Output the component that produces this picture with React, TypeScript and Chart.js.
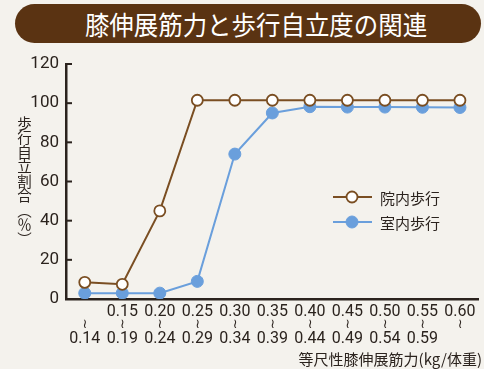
import React, { useEffect, useRef } from "react";
import { Chart, registerables } from "chart.js";

Chart.register(...registerables);

const rangeStart = ["", "0.15", "0.20", "0.25", "0.30", "0.35", "0.40", "0.45", "0.50", "0.55", "0.60"];
const rangeEnd = ["0.14", "0.19", "0.24", "0.29", "0.34", "0.39", "0.44", "0.49", "0.54", "0.59", ""];
const inHospital = [8.5, 7.5, 45, 101.5, 101.5, 101.5, 101.5, 101.5, 101.5, 101.5, 101.5];
const indoor = [3, 3, 3, 9, 74, 95, 98.2, 98, 98, 97.9, 97.8];
const seriesNames = ["院内歩行", "室内歩行"];
const yTicks = [0, 20, 40, 60, 80, 100, 120];

const TITLE = "膝伸展筋力と歩行自立度の関連";
const X_TITLE = "等尺性膝伸展筋力(kg/体重)";
const Y_TITLE = "歩行自立割合（％）";
const RANGE_MARK = "≀";

const BROWN = "#7a4e22";
const BLUE = "#6a9fdc";
const INK = "#2b231e";
const NUM_FONT = "'Liberation Sans Narrow', 'Roboto', sans-serif";
const CJK_FONT = "'Noto Sans CJK JP', 'Noto Sans', sans-serif";

const labels = rangeStart.map((s, i) => `${s}${RANGE_MARK}${rangeEnd[i]}`);

const inwardTicks = {
  id: "inwardTicks",
  afterDraw(chart: any) {
    const { ctx } = chart;
    const y = chart.scales.y;
    ctx.save();
    ctx.strokeStyle = INK;
    ctx.lineWidth = 2;
    for (const v of yTicks) {
      const py = y.getPixelForValue(v);
      ctx.beginPath();
      ctx.moveTo(y.right, py);
      ctx.lineTo(y.right + 6, py);
      ctx.stroke();
    }
    ctx.restore();
  },
};

const rangeLabels = {
  id: "rangeLabels",
  afterDraw(chart: any) {
    const { ctx } = chart;
    const x = chart.scales.x;
    const base = x.top;
    ctx.save();
    ctx.fillStyle = INK;
    ctx.textAlign = "center";
    ctx.textBaseline = "middle";
    rangeStart.forEach((s, i) => {
      const px = x.getPixelForValue(i);
      ctx.font = `16px ${NUM_FONT}`;
      if (s) ctx.fillText(s, px, base + 13);
      if (rangeEnd[i]) ctx.fillText(rangeEnd[i], px, base + 40);
      ctx.font = `13px 'DejaVu Sans', sans-serif`;
      ctx.fillText(RANGE_MARK, px, base + 26);
    });
    ctx.restore();
  },
};

const customLegend = {
  id: "customLegend",
  afterDraw(chart: any) {
    const { ctx } = chart;
    ctx.save();
    const rows = [197, 222];
    chart.data.datasets.forEach((ds: any, i: number) => {
      const yy = rows[i];
      ctx.strokeStyle = ds.borderColor;
      ctx.lineWidth = 2;
      ctx.beginPath();
      ctx.moveTo(333, yy);
      ctx.lineTo(372, yy);
      ctx.stroke();
      ctx.beginPath();
      ctx.arc(352, yy, ds.pointRadius, 0, Math.PI * 2);
      ctx.fillStyle = ds.pointBackgroundColor;
      ctx.fill();
      ctx.lineWidth = ds.pointBorderWidth;
      ctx.strokeStyle = ds.pointBorderColor;
      ctx.stroke();
      ctx.fillStyle = INK;
      ctx.font = `15px ${CJK_FONT}`;
      ctx.textBaseline = "middle";
      ctx.fillText(ds.label, 380, yy + 1);
    });
    ctx.restore();
  },
};

export default function App() {
  const ref = useRef<HTMLCanvasElement>(null);

  useEffect(() => {
    document.body.style.margin = "0";
    document.body.style.overflow = "hidden";
    const chart = new Chart(ref.current as HTMLCanvasElement, {
      type: "line",
      data: {
        labels,
        datasets: [
          {
            label: seriesNames[0],
            data: inHospital,
            borderColor: BROWN,
            borderWidth: 2,
            pointRadius: 5.5,
            pointBackgroundColor: "#ffffff",
            pointBorderColor: BROWN,
            pointBorderWidth: 1.8,
          },
          {
            label: seriesNames[1],
            data: indoor,
            borderColor: BLUE,
            borderWidth: 2,
            pointRadius: 6,
            pointBackgroundColor: BLUE,
            pointBorderColor: BLUE,
            pointBorderWidth: 1,
          },
        ],
      },
      options: {
        animation: false,
        responsive: false,
        layout: { padding: { top: 64, left: 0, right: 0, bottom: 0 } },
        plugins: { legend: { display: false }, tooltip: { enabled: false } },
        scales: {
          x: {
            offset: true,
            grid: { display: false, drawTicks: false },
            border: { display: true, color: INK, width: 2.5 },
            ticks: { display: false },
            afterFit(scale: any) {
              scale.height = 70;
            },
          },
          y: {
            min: 0,
            max: 120,
            afterBuildTicks(scale: any) {
              scale.ticks = yTicks.map((v) => ({ value: v }));
            },
            grid: { display: false, drawTicks: false },
            border: { display: true, color: INK, width: 2.5 },
            ticks: {
              color: INK,
              padding: 7,
              font: { family: NUM_FONT, size: 17 },
            },
            afterFit(scale: any) {
              scale.width = 66;
            },
          },
        },
      },
      plugins: [inwardTicks, rangeLabels, customLegend],
    });
    return () => chart.destroy();
  }, []);

  return (
    <div style={{ position: "relative", width: 484, height: 369, overflow: "hidden", background: "#f4f2ed" }}>
      <div
        style={{
          position: "absolute",
          left: 15,
          top: 4,
          width: 466,
          height: 39,
          borderRadius: 20,
          background: "#5a3312",
          color: "#ffffff",
          fontFamily: CJK_FONT,
          fontSize: 26,
          lineHeight: "39px",
          textAlign: "center",
          paddingLeft: 16,
          boxSizing: "border-box",
          whiteSpace: "nowrap",
        }}
      >
        <span style={{ display: "inline-block", transform: "scaleX(0.94)" }}>{TITLE}</span>
      </div>
      <canvas ref={ref} width={486} height={369} style={{ position: "absolute", left: 0, top: 0 }} />
      <div
        style={{
          position: "absolute",
          left: 16,
          top: 116,
          writingMode: "vertical-rl",
          fontFamily: CJK_FONT,
          fontSize: 14.5,
          lineHeight: "16px",
          color: INK,
        }}
      >
        {Y_TITLE}
      </div>
      <div
        style={{
          position: "absolute",
          right: 2,
          top: 350,
          fontFamily: CJK_FONT,
          fontSize: 15,
          lineHeight: "18px",
          color: INK,
          whiteSpace: "nowrap",
        }}
      >
        {X_TITLE}
      </div>
    </div>
  );
}
